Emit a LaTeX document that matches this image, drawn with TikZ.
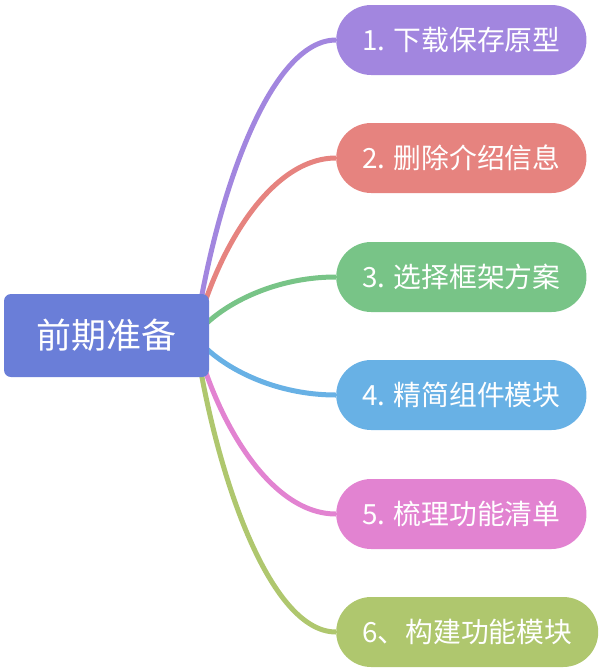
\documentclass[tikz,border=0pt]{standalone}
\usepackage{fontspec}
\setmainfont{Noto Sans CJK SC}
\usetikzlibrary{calc,backgrounds}
\definecolor{rootc}{HTML}{6A7ED8}
\definecolor{c1}{HTML}{A286DF}
\definecolor{c2}{HTML}{E6837F}
\definecolor{c3}{HTML}{78C487}
\definecolor{c4}{HTML}{68B1E5}
\definecolor{c5}{HTML}{E283D1}
\definecolor{c6}{HTML}{AFC76E}
\tikzset{
  rootbox/.style={fill=rootc, text=white, rounded corners=7pt, minimum width=205pt,
    minimum height=83pt, inner sep=0pt, font=\fontsize{35pt}{40pt}\selectfont},
  pill/.style={fill=#1, text=white, rounded corners=35pt, minimum height=70pt,
    inner xsep=26pt, inner ysep=0pt, anchor=west, font=\fontsize{27.8pt}{32pt}\selectfont},
  link/.style={draw=#1, line width=5pt}
}
\begin{document}
\begin{tikzpicture}[x=1pt,y=1pt]
\useasboundingbox (0,0) rectangle (600,-672);
\node[rootbox] (r) at (106.5,-335.5) {前期准备};
\coordinate (s) at (195,-336);
\node[pill=c1] (p1) at (336,-40) {1. 下载保存原型};
\node[pill=c2] (p2) at (336,-158) {2. 删除介绍信息};
\node[pill=c3] (p3) at (336,-277) {3. 选择框架方案};
\node[pill=c4] (p4) at (336,-395) {4. 精简组件模块};
\node[pill=c5] (p5) at (336,-514) {5. 梳理功能清单};
\node[pill=c6] (p6) at (336,-632) {6、构建功能模块};
\begin{scope}[on background layer]
\foreach \i in {1,...,6}{
  \draw[link=c\i] let \p1=(s), \p2=(p\i.west) in
    (s) .. controls (\x1+20pt, {\y1+0.46*(\y2-\y1)}) and (\x2-67pt,\y2) .. (p\i.west);
}
\end{scope}
\end{tikzpicture}
\end{document}
